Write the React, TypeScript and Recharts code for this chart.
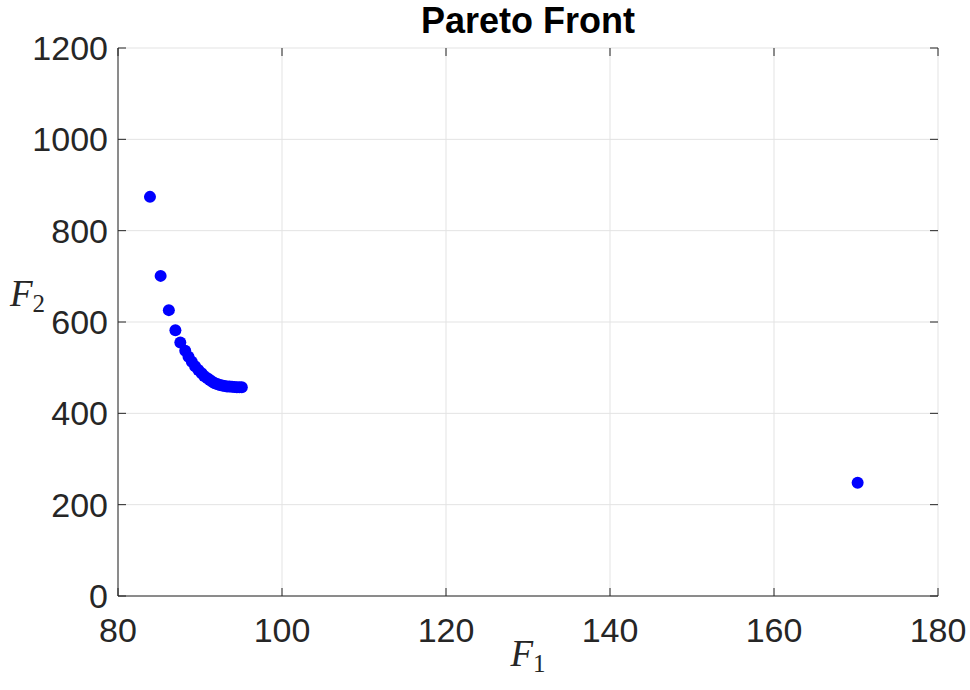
import React from "react";
import {
  ScatterChart,
  Scatter,
  XAxis,
  YAxis,
  CartesianGrid,
  Label,
} from "recharts";

// Pareto front values
const f1Values = [
  83.9, 85.2, 86.2, 87.0, 87.6, 88.2, 88.6, 89.0, 89.4, 89.8, 90.2, 90.5,
  90.9, 91.2, 91.5, 91.8, 92.1, 92.4, 92.7, 93.0, 93.3, 93.6, 93.9, 94.2,
  94.5, 94.8, 95.1, 170.2,
];
const f2Values = [
  874, 701, 626, 582, 555, 537, 524, 513, 503, 495, 488, 482, 477, 473, 469,
  466, 464, 462, 461, 460, 459, 458.5, 458, 457.5, 457, 457, 457, 248,
];

const xTicks = [80, 100, 120, 140, 160, 180];
const yTicks = [0, 200, 400, 600, 800, 1000, 1200];

const points = f1Values.map((f1, i) => ({ f1, f2: f2Values[i] }));

// layout
const W = 970;
const H = 690;
const PLOT_LEFT = 118;
const PLOT_RIGHT = 938;
const PLOT_TOP = 48;
const PLOT_BOTTOM = 596;
const TICK_LEN = 8;
const AXIS_COLOR = "#262626";
const FONT = "'Liberation Sans', Arial, sans-serif";
const MATH_FONT = "'Liberation Serif', 'DejaVu Serif', serif";

// MATLAB style ticks: labels outside, marks pointing into the box
const BottomTick = ({ x, payload }: any) => (
  <g>
    <line
      x1={x}
      x2={x}
      y1={PLOT_BOTTOM}
      y2={PLOT_BOTTOM - TICK_LEN}
      stroke={AXIS_COLOR}
    />
    <line x1={x} x2={x} y1={PLOT_TOP} y2={PLOT_TOP + TICK_LEN} stroke={AXIS_COLOR} />
    <text
      x={x}
      y={PLOT_BOTTOM + 46}
      textAnchor="middle"
      fontSize={34}
      fontFamily={FONT}
      fill={AXIS_COLOR}
    >
      {payload.value}
    </text>
  </g>
);

const LeftTick = ({ y, payload }: any) => (
  <g>
    <line
      x1={PLOT_LEFT}
      x2={PLOT_LEFT + TICK_LEN}
      y1={y}
      y2={y}
      stroke={AXIS_COLOR}
    />
    <line
      x1={PLOT_RIGHT}
      x2={PLOT_RIGHT - TICK_LEN}
      y1={y}
      y2={y}
      stroke={AXIS_COLOR}
    />
    <text
      x={PLOT_LEFT - 10}
      y={y + 12}
      textAnchor="end"
      fontSize={34}
      fontFamily={FONT}
      fill={AXIS_COLOR}
    >
      {payload.value}
    </text>
  </g>
);

const XLabel = () => (
  <text x={528} y={666} textAnchor="middle" fontFamily={MATH_FONT} fill={AXIS_COLOR}>
    <tspan fontSize={37} fontStyle="italic">F</tspan>
    <tspan fontSize={25} dy={6}>1</tspan>
  </text>
);

const YLabel = () => (
  <text x={10} y={306} fontFamily={MATH_FONT} fill={AXIS_COLOR}>
    <tspan fontSize={37} fontStyle="italic">F</tspan>
    <tspan fontSize={25} dy={6}>2</tspan>
  </text>
);

const App = () => {
  return (
    <div style={{ position: "absolute", left: 0, top: 0, width: W, height: H, background: "#fff" }}>
      <div
        style={{
          position: "absolute",
          left: PLOT_LEFT,
          width: PLOT_RIGHT - PLOT_LEFT,
          top: 0,
          textAlign: "center",
          fontFamily: FONT,
          fontWeight: "bold",
          fontSize: 36,
          lineHeight: "normal",
          color: "#000",
        }}
      >
        Pareto Front
      </div>
      <ScatterChart
        width={W}
        height={H}
        margin={{ top: PLOT_TOP, right: W - PLOT_RIGHT, bottom: 34, left: 18 }}
      >
        <CartesianGrid stroke="#e3e3e3" horizontalValues={yTicks} verticalValues={xTicks} />
        <XAxis
          type="number"
          dataKey="f1"
          domain={[80, 180]}
          ticks={xTicks}
          height={60}
          tickLine={false}
          axisLine={{ stroke: AXIS_COLOR }}
          tick={<BottomTick />}
          allowDataOverflow
        >
          <Label content={<XLabel />} />
        </XAxis>
        <XAxis
          xAxisId="top"
          orientation="top"
          type="number"
          domain={[80, 180]}
          ticks={xTicks}
          height={0}
          tick={false}
          tickLine={false}
          axisLine={{ stroke: AXIS_COLOR }}
        />
        <YAxis
          type="number"
          dataKey="f2"
          domain={[0, 1200]}
          ticks={yTicks}
          width={100}
          tickLine={false}
          axisLine={{ stroke: AXIS_COLOR }}
          tick={<LeftTick />}
          allowDataOverflow
        >
          <Label content={<YLabel />} />
        </YAxis>
        <YAxis
          yAxisId="right"
          orientation="right"
          type="number"
          domain={[0, 1200]}
          ticks={yTicks}
          width={0}
          tick={false}
          tickLine={false}
          axisLine={{ stroke: AXIS_COLOR }}
        />
        <Scatter
          data={points}
          fill="#0000ff"
          isAnimationActive={false}
          shape={(props: any) => <circle cx={props.cx} cy={props.cy} r={6} fill="#0000ff" />}
        />
      </ScatterChart>
    </div>
  );
};

export default App;
